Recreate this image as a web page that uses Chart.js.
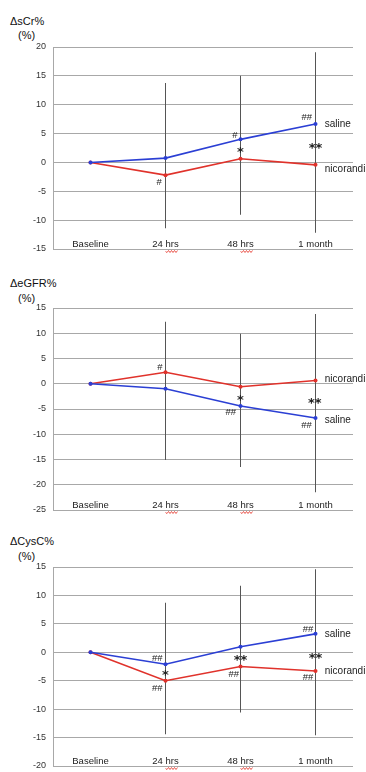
<!DOCTYPE html>
<html>
<head>
<meta charset="utf-8">
<script src="https://cdn.jsdelivr.net/npm/chart.js@4.4.0/dist/chart.umd.min.js"></script>
<style>
  body { margin: 0; background: #fff; width: 366px; height: 772px; position: relative; overflow: hidden;
         font-family: "Liberation Sans", Arial, sans-serif; }
  canvas { position: absolute; left: 0; }
  .ttl { position: absolute; font-size: 11px; line-height: 12px; color: #111; white-space: nowrap; }
</style>
</head>
<body>
<div class="ttl" style="left:10px;top:15px">ΔsCr%</div>
<div class="ttl" style="left:18px;top:29px">(%)</div>
<canvas id="c1" width="366" height="256" style="top:0"></canvas>

<div class="ttl" style="left:10px;top:277px">ΔeGFR%</div>
<div class="ttl" style="left:18px;top:292px">(%)</div>
<canvas id="c2" width="366" height="260" style="top:256px"></canvas>

<div class="ttl" style="left:10px;top:535px">ΔCysC%</div>
<div class="ttl" style="left:18px;top:550px">(%)</div>
<canvas id="c3" width="366" height="256" style="top:516px"></canvas>

<script>
const categories = ["Baseline", "24 hrs", "48 hrs", "1 month"];

// serum creatinine
const sCrSaline = [0, 0.75, 4.0, 6.67];
const sCrNicorandil = [0, -2.2, 0.63, -0.42];
const sCrErrLow = [null, -11.4, -9.06, -12.2];
const sCrErrHigh = [null, 13.75, 15.0, 19.1];
const sCrRange = [-15, 20];
const sCrNotes = [["#", 0.915, -3.4], ["#", 1.924, 4.75], ["*", 2.0, 2.1], ["##", 2.884, 7.8], ["**", 3.0, 2.8]];
const sCrTags = [["saline", 6.67], ["nicorandil", -1.2]];

// eGFR
const eGfrSaline = [0, -1.0, -4.4, -6.77];
const eGfrNicorandil = [0, 2.28, -0.6, 0.65];
const eGfrErrLow = [null, -15.1, -16.5, -21.5];
const eGfrErrHigh = [null, 12.3, 9.9, 13.8];
const eGfrRange = [-25, 15];
const eGfrNotes = [["#", 0.924, 3.15], ["*", 2.0, -2.9], ["##", 1.87, -5.7], ["**", 2.99, -3.4], ["##", 2.88, -8.3]];
const eGfrTags = [["nicorandil", 0.85], ["saline", -7.2]];

// cystatin C
const cysSaline = [0, -2.1, 0.98, 3.24];
const cysNicorandil = [0, -5.0, -2.5, -3.3];
const cysErrLow = [null, -14.4, -10.6, -14.6];
const cysErrHigh = [null, 8.7, 11.7, 14.6];
const cysRange = [-20, 15];
const cysNotes = [["##", 0.89, -1.0], ["*", 1.0, -3.6], ["##", 0.89, -6.4], ["**", 2.0, -1.0], ["##", 1.91, -3.95],
                  ["##", 2.9, 4.06], ["**", 3.0, -0.7], ["##", 2.9, -4.4]];
const cysTags = [["saline", 3.2], ["nicorandil", -3.3]];

const BLUE = "#2b3fd4";
const RED = "#e0322b";
const GRID = "#a8a8a8";
const TAG_X = 3.124;

// text marks (#, *, series names) and red spell-check squiggles under "hrs"
const notesPlugin = {
  id: "notes",
  afterDatasetsDraw(chart) {
    const o = chart.options.plugins.notes;
    const { ctx, scales: { x, y } } = chart;
    ctx.save();
    ctx.fillStyle = "#222";
    ctx.textBaseline = "middle";
    ctx.textAlign = "center";
    o.items.forEach(([t, cx, cy]) => {
      if (t[0] === "*") {
        ctx.font = "bold 13px 'DejaVu Sans'";
        ctx.fillText(t, x.getPixelForValue(cx), y.getPixelForValue(cy) + 2.5);
      } else {
        ctx.font = "9.5px 'Liberation Sans'";
        ctx.fillText(t, x.getPixelForValue(cx), y.getPixelForValue(cy));
      }
    });
    ctx.textAlign = "left";
    ctx.font = "10px 'Liberation Sans'";
    o.tags.forEach(([t, cy]) => ctx.fillText(t, x.getPixelForValue(TAG_X), y.getPixelForValue(cy)));

    // squiggles
    ctx.font = "9.5px 'Liberation Sans'";
    ctx.strokeStyle = "#e8463c";
    ctx.lineWidth = 0.9;
    categories.forEach((lab, i) => {
      const k = lab.indexOf("hrs");
      if (k < 0) return;
      const w = ctx.measureText(lab).width;
      const x0 = x.getPixelForTick(i) - w / 2 + ctx.measureText(lab.slice(0, k)).width;
      const x1 = x0 + ctx.measureText("hrs").width;
      const yb = chart.chartArea.bottom + 2.5;
      ctx.beginPath();
      for (let px = x0, up = true; px <= x1; px += 1.5, up = !up) {
        if (px === x0) ctx.moveTo(px, yb); else ctx.lineTo(px, up ? yb - 1 : yb + 1);
      }
      ctx.stroke();
    });
    ctx.restore();
  }
};

function makePanel(id, range, saline, nico, errLow, errHigh, notes, tags, padTop, padBottom) {
  new Chart(document.getElementById(id), {
    data: {
      labels: categories,
      datasets: [
        { type: "line", data: saline, borderColor: BLUE, backgroundColor: BLUE, borderWidth: 1.6,
          pointRadius: 2, pointBorderWidth: 0, order: 0 },
        { type: "line", data: nico, borderColor: RED, backgroundColor: RED, borderWidth: 1.6,
          pointRadius: 2, pointBorderWidth: 0, order: 1 },
        { type: "bar", data: errLow.map((v, i) => v === null ? null : [v, errHigh[i]]),
          backgroundColor: "#555", barThickness: 1, inflateAmount: 0, order: 2 }
      ]
    },
    options: {
      responsive: false,
      animation: false,
      devicePixelRatio: 1,
      layout: { padding: { top: padTop, bottom: padBottom, left: 0, right: 13 } },
      plugins: {
        legend: { display: false },
        tooltip: { enabled: false },
        notes: { items: notes, tags: tags }
      },
      scales: {
        x: {
          offset: true,
          grid: { display: false, drawTicks: false },
          border: { display: false },
          // mirrored so the labels sit inside the plot, just above the bottom line
          ticks: { mirror: true, padding: -1, color: "#222", font: { family: "Liberation Sans", size: 9.5 } },
          afterFit: s => { s.height = 0; s.paddingLeft = 0; s.paddingRight = 0; }
        },
        y: {
          min: range[0],
          max: range[1],
          ticks: { stepSize: 5, padding: 7, color: "#333", font: { family: "Liberation Sans", size: 9 } },
          grid: { color: GRID, drawTicks: false },
          border: { display: true, color: GRID },
          afterFit: s => { s.width = 53; s.paddingTop = 0; s.paddingBottom = 0; }
        }
      }
    },
    plugins: [notesPlugin]
  });
}

makePanel("c1", sCrRange, sCrSaline, sCrNicorandil, sCrErrLow, sCrErrHigh, sCrNotes, sCrTags, 47, 7);
makePanel("c2", eGfrRange, eGfrSaline, eGfrNicorandil, eGfrErrLow, eGfrErrHigh, eGfrNotes, eGfrTags, 52, 6);
makePanel("c3", cysRange, cysSaline, cysNicorandil, cysErrLow, cysErrHigh, cysNotes, cysTags, 51, 6);
</script>
</body>
</html>
